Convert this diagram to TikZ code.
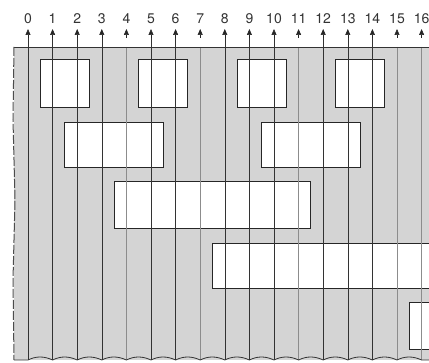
\documentclass[tikz,border=0pt]{standalone}
\usepackage{fontspec}
\setmainfont{TeX Gyre Heros}
\usetikzlibrary{arrows.meta}
\begin{document}
\begin{tikzpicture}[x=1pt,y=-1pt,
  hbox/.style={draw=black!85,line width=0.9pt,fill=white},
  vline/.style={draw=black!80,line width=0.6pt},
  fline/.style={draw=black!45,line width=0.6pt},
  tip/.style={-{Triangle[width=5pt,length=6pt]},draw=black!85,line width=0.6pt},
  lab/.style={font=\fontsize{14}{14}\selectfont,text=black!80,inner sep=0pt}]
\useasboundingbox (0,0) rectangle (429,363);
% stippled background
\fill[black!17] (14,47) rectangle (429,360);
% row 1
\path[hbox] ({28+24.6*0.5},59) rectangle ({28+24.6*2.5},107);
\path[hbox] ({28+24.6*4.5},59) rectangle ({28+24.6*6.5},107);
\path[hbox] ({28+24.6*8.5},59) rectangle ({28+24.6*10.5},107);
\path[hbox] ({28+24.6*12.5},59) rectangle ({28+24.6*14.5},107);
% row 2
\path[hbox] ({28+24.6*1.5},122) rectangle ({28+24.6*5.5},167);
\path[hbox] ({28+24.6*9.5},122) rectangle ({28+24.6*13.5},167);
% row 3
\path[hbox] ({28+24.6*3.5},181) rectangle ({28+24.6*11.5},228);
% row 4 (runs off the right edge)
\fill[white] ({28+24.6*7.5},243) rectangle (430,288);
\draw[black!85,line width=0.9pt] (430,243) -- ({28+24.6*7.5},243) -- ({28+24.6*7.5},288) -- (430,288);
% row 5
\fill[white] ({28+24.6*15.5},302) rectangle (430,349);
\draw[black!85,line width=0.9pt] (430,302) -- ({28+24.6*15.5},302) -- ({28+24.6*15.5},349) -- (430,349);
% vertical lines, arrows and numbers
\foreach \i in {0,1,2,3,5,6,8,9,10,12,13,14}{
  \draw[vline] ({28+24.6*\i},36) -- ({28+24.6*\i},360);
}
\foreach \i in {4,7,11,15,16}{
  \draw[fline] ({28+24.6*\i},47) -- ({28+24.6*\i},360);
}
\foreach \i in {0,...,16}{
  \draw[tip] ({28+24.6*\i},38) -- ({28+24.6*\i},29);
  \node[lab] (n\i) at ({28+24.6*\i},19) {\i};
}
% top border
\draw[black!80,line width=0.7pt] (14,47) -- (429,47);
% left ragged border
\draw[black!70,line width=1pt,dash pattern=on 9pt off 2pt] (14,47) -- (13,120) -- (15,200) -- (13,280) -- (14,360);
% wavy bottom edge
\draw[black!80,line width=0.8pt] (14,360) -- (28,360)
  \foreach \i in {0,...,15}{ .. controls ({28+24.6*\i+8},356) and ({28+24.6*\i+16},356) .. ({28+24.6*(\i+1)},360) } -- (429,360);
\end{tikzpicture}
\end{document}
